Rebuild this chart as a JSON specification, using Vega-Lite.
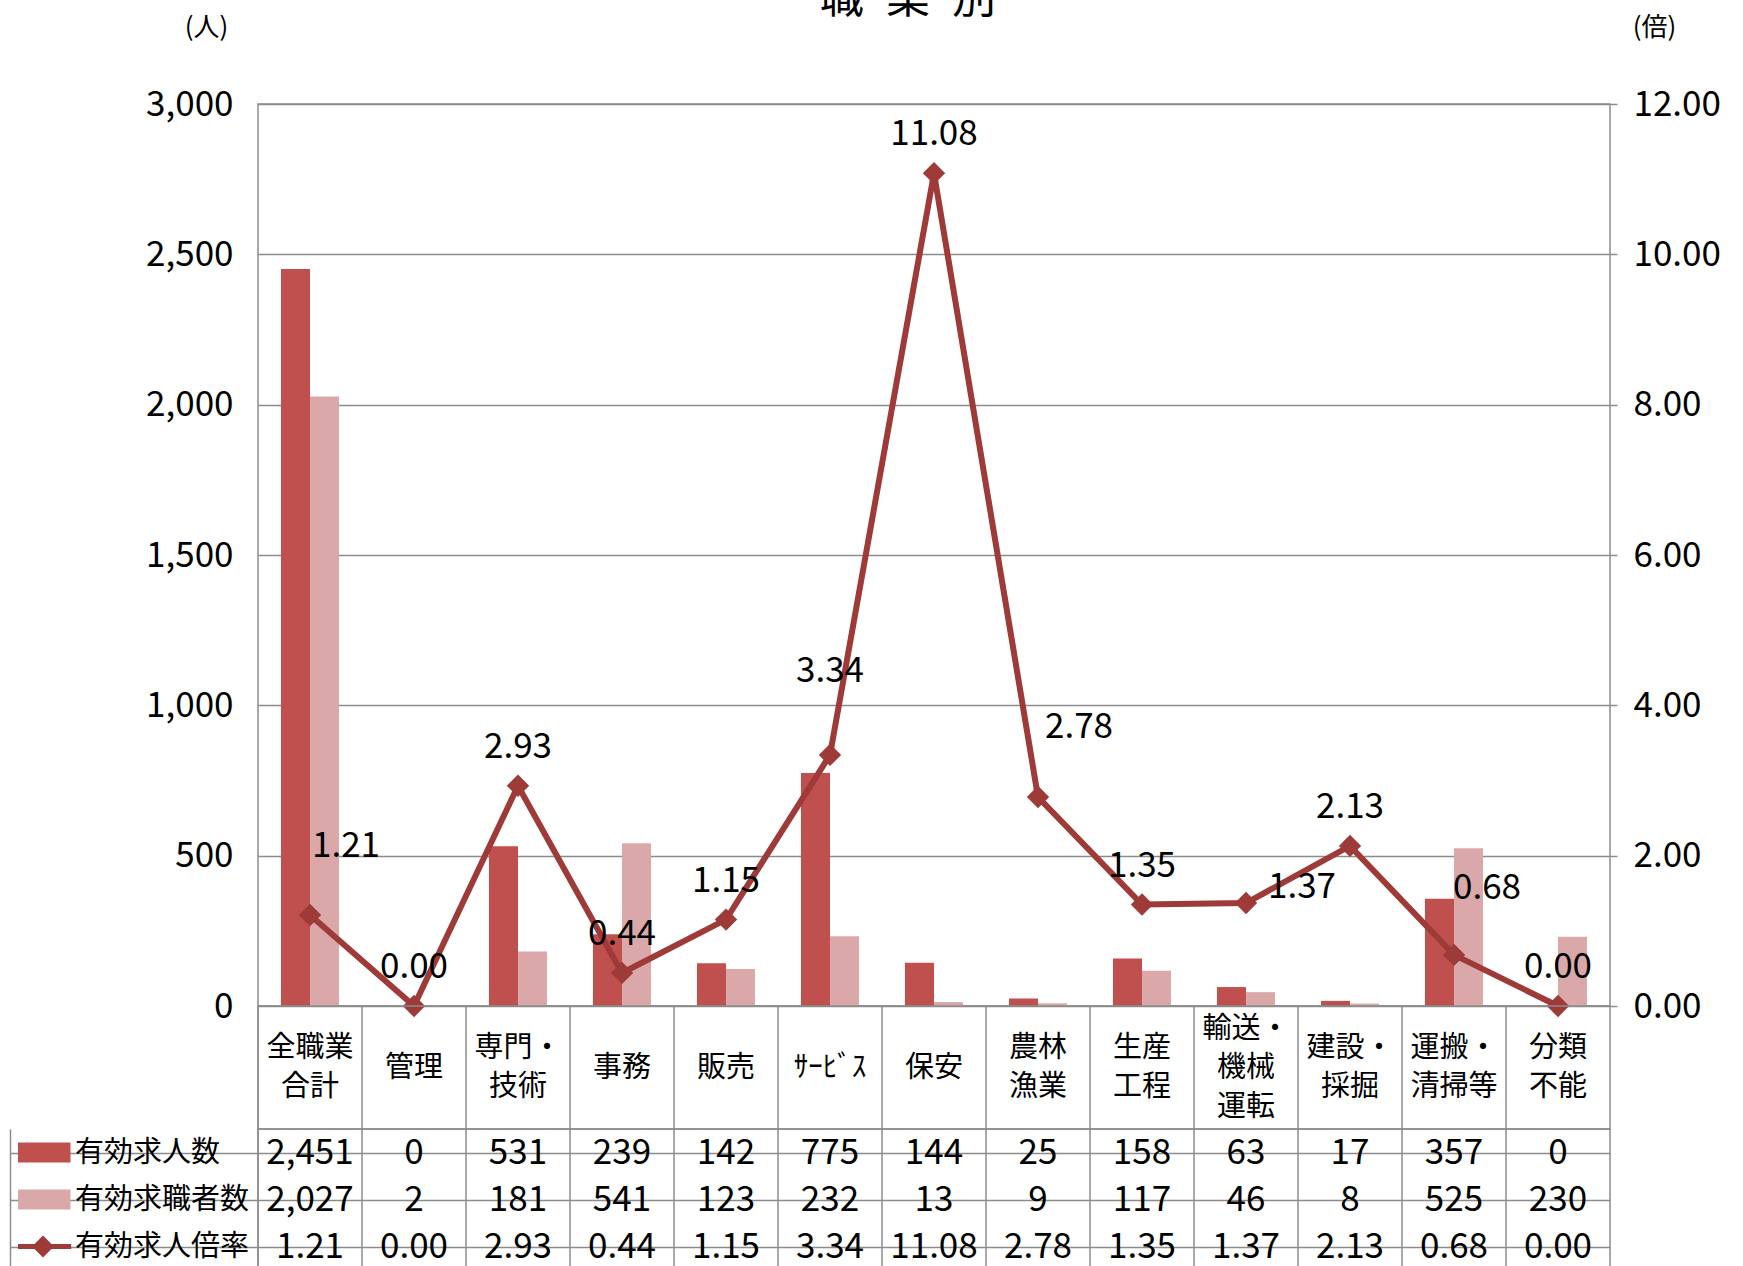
{
  "$schema": "https://vega.github.io/schema/vega-lite/v6.json",
  "background": "white",
  "padding": {"left": 8, "top": -23, "right": 0, "bottom": 0},
  "config": {
    "font": "Noto Sans CJK JP",
    "view": {"stroke": "#8c8c8c", "strokeWidth": 1.5},
    "axis": {"labelFont": "Noto Sans CJK JP", "titleFont": "Noto Sans CJK JP", "labelColor": "#000", "titleColor": "#000", "titleFontWeight": "normal", "gridColor": "#8c8c8c", "gridWidth": 1.5, "domain": false, "ticks": false},
    "text": {"font": "Noto Sans CJK JP", "color": "#000", "fontWeight": "normal"}
  },
  "datasets": {
    "rows": [
      {"職業": "全職業合計", "系列": "有効求人数", "値": 2451},
      {"職業": "全職業合計", "系列": "有効求職者数", "値": 2027},
      {"職業": "全職業合計", "系列": "有効求人倍率", "値": 1.21},
      {"職業": "管理", "系列": "有効求人数", "値": 0},
      {"職業": "管理", "系列": "有効求職者数", "値": 2},
      {"職業": "管理", "系列": "有効求人倍率", "値": 0.00},
      {"職業": "専門・技術", "系列": "有効求人数", "値": 531},
      {"職業": "専門・技術", "系列": "有効求職者数", "値": 181},
      {"職業": "専門・技術", "系列": "有効求人倍率", "値": 2.93},
      {"職業": "事務", "系列": "有効求人数", "値": 239},
      {"職業": "事務", "系列": "有効求職者数", "値": 541},
      {"職業": "事務", "系列": "有効求人倍率", "値": 0.44},
      {"職業": "販売", "系列": "有効求人数", "値": 142},
      {"職業": "販売", "系列": "有効求職者数", "値": 123},
      {"職業": "販売", "系列": "有効求人倍率", "値": 1.15},
      {"職業": "サービス", "系列": "有効求人数", "値": 775},
      {"職業": "サービス", "系列": "有効求職者数", "値": 232},
      {"職業": "サービス", "系列": "有効求人倍率", "値": 3.34},
      {"職業": "保安", "系列": "有効求人数", "値": 144},
      {"職業": "保安", "系列": "有効求職者数", "値": 13},
      {"職業": "保安", "系列": "有効求人倍率", "値": 11.08},
      {"職業": "農林漁業", "系列": "有効求人数", "値": 25},
      {"職業": "農林漁業", "系列": "有効求職者数", "値": 9},
      {"職業": "農林漁業", "系列": "有効求人倍率", "値": 2.78},
      {"職業": "生産工程", "系列": "有効求人数", "値": 158},
      {"職業": "生産工程", "系列": "有効求職者数", "値": 117},
      {"職業": "生産工程", "系列": "有効求人倍率", "値": 1.35},
      {"職業": "輸送・機械運転", "系列": "有効求人数", "値": 63},
      {"職業": "輸送・機械運転", "系列": "有効求職者数", "値": 46},
      {"職業": "輸送・機械運転", "系列": "有効求人倍率", "値": 1.37},
      {"職業": "建設・採掘", "系列": "有効求人数", "値": 17},
      {"職業": "建設・採掘", "系列": "有効求職者数", "値": 8},
      {"職業": "建設・採掘", "系列": "有効求人倍率", "値": 2.13},
      {"職業": "運搬・清掃等", "系列": "有効求人数", "値": 357},
      {"職業": "運搬・清掃等", "系列": "有効求職者数", "値": 525},
      {"職業": "運搬・清掃等", "系列": "有効求人倍率", "値": 0.68},
      {"職業": "分類不能", "系列": "有効求人数", "値": 0},
      {"職業": "分類不能", "系列": "有効求職者数", "値": 230},
      {"職業": "分類不能", "系列": "有効求人倍率", "値": 0.00}
    ],
    "cats": [
      {"職業": "全職業合計", "表示": "全職業\n合計"},
      {"職業": "管理", "表示": "管理"},
      {"職業": "専門・技術", "表示": "専門・\n技術"},
      {"職業": "事務", "表示": "事務"},
      {"職業": "販売", "表示": "販売"},
      {"職業": "サービス", "表示": "ｻｰﾋﾞｽ"},
      {"職業": "保安", "表示": "保安"},
      {"職業": "農林漁業", "表示": "農林\n漁業"},
      {"職業": "生産工程", "表示": "生産\n工程"},
      {"職業": "輸送・機械運転", "表示": "輸送・\n機械\n運転"},
      {"職業": "建設・採掘", "表示": "建設・\n採掘"},
      {"職業": "運搬・清掃等", "表示": "運搬・\n清掃等"},
      {"職業": "分類不能", "表示": "分類\n不能"}
    ]
  },
  "spacing": 0,
  "bounds": "flush",
  "resolve": {"scale": {"x": "independent"}},
  "vconcat": [
    {
      "width": 1352,
      "height": 902,
      "title": {"text": "職\u2002業\u2002別", "fontSize": 44, "font": "Noto Sans CJK JP", "fontWeight": "normal", "color": "#000", "anchor": "middle", "dx": -26, "dy": 12},
      "data": {"name": "rows"},
      "layer": [
        {
          "transform": [{"filter": "datum['系列'] !== '有効求人倍率'"}],
          "mark": {"type": "bar"},
          "encoding": {
            "x": {"field": "職業", "type": "nominal", "scale": {"domain": ["全職業合計","管理","専門・技術","事務","販売","サービス","保安","農林漁業","生産工程","輸送・機械運転","建設・採掘","運搬・清掃等","分類不能"], "paddingInner": 0.442, "paddingOuter": 0.221}, "axis": null},
            "xOffset": {"field": "系列", "type": "nominal", "scale": {"domain": ["有効求人数", "有効求職者数"], "paddingInner": 0, "paddingOuter": 0}},
            "y": {"field": "値", "type": "quantitative", "scale": {"domain": [0, 3000], "nice": false}, "axis": {"orient": "left", "values": [0, 500, 1000, 1500, 2000, 2500, 3000], "format": ",d", "labelFontSize": 35, "labelPadding": 25, "grid": true, "title": "(人)", "titleFontSize": 26, "titleAngle": 0, "titleX": -52, "titleY": -77, "titleAlign": "center", "titleBaseline": "middle"}},
            "color": {"field": "系列", "type": "nominal", "scale": {"domain": ["有効求人数", "有効求職者数", "有効求人倍率"], "range": ["#C0504D", "#DAA8A8", "#9E3A38"]},
              "legend": {"orient": "none", "legendX": -240, "legendY": 1025, "title": null, "padding": 0, "clipHeight": 47, "rowPadding": 0, "labelFontSize": 29, "labelFont": "Noto Sans CJK JP", "labelColor": "#000", "labelLimit": 400, "labelOffset": 7, "symbolOffset": 0, "symbolSize": 2025, "symbolStrokeWidth": 5,
                "encode": {"symbols": {"update": {
                  "size": {"value": 2025},
                  "shape": {"signal": "datum.value === '有効求人倍率' ? 'M-1.25,0H1.25M0,-0.33L0.33,0L0,0.33L-0.33,0Z' : 'M-1.111,-0.333H1.111V0.333H-1.111Z'"},
                  "fill": {"signal": "datum.value === '有効求人数' ? '#C0504D' : datum.value === '有効求職者数' ? '#DAA8A8' : '#9E3A38'"},
                  "stroke": {"signal": "datum.value === '有効求人倍率' ? '#9E3A38' : 'transparent'"},
                  "strokeWidth": {"value": 5},
                  "opacity": {"value": 1}
                }}}}}
          }
        },
        {
          "transform": [{"filter": "datum['系列'] === '有効求人倍率'"}],
          "encoding": {
            "x": {"field": "職業", "type": "nominal", "scale": {"domain": ["全職業合計","管理","専門・技術","事務","販売","サービス","保安","農林漁業","生産工程","輸送・機械運転","建設・採掘","運搬・清掃等","分類不能"], "paddingInner": 0.442, "paddingOuter": 0.221}, "axis": null},
            "y": {"field": "値", "type": "quantitative", "scale": {"domain": [0, 12], "nice": false}, "axis": {"orient": "right", "values": [0, 2, 4, 6, 8, 10, 12], "format": ".2f", "labelFontSize": 35, "ticks": true, "tickSize": 7, "tickColor": "#8c8c8c", "tickWidth": 1.5, "labelPadding": 16, "grid": false, "title": "(倍)", "titleFontSize": 26, "titleAngle": 0, "titleX": 44, "titleY": -77, "titleAlign": "center", "titleBaseline": "middle"}}
          },
          "layer": [
            {"mark": {"type": "line", "strokeWidth": 6}, "encoding": {"color": {"field": "系列", "type": "nominal"}}},
            {"mark": {"type": "point", "shape": "diamond", "filled": true, "size": 500, "opacity": 1}, "encoding": {"color": {"field": "系列", "type": "nominal"}}},
            {"transform": [{"filter": {"not": {"field": "職業", "oneOf": ["全職業合計", "サービス", "農林漁業", "輸送・機械運転", "運搬・清掃等"]}}}],
             "mark": {"type": "text", "fontSize": 35, "dy": -39, "baseline": "middle", "color": "#000"}, "encoding": {"text": {"field": "値", "type": "quantitative", "format": ".2f"}}},
            {"transform": [{"filter": {"field": "職業", "equal": "全職業合計"}}],
             "mark": {"type": "text", "fontSize": 35, "dx": 36, "dy": -69, "baseline": "middle", "color": "#000"}, "encoding": {"text": {"field": "値", "type": "quantitative", "format": ".2f"}}},
            {"transform": [{"filter": {"field": "職業", "equal": "サービス"}}],
             "mark": {"type": "text", "fontSize": 35, "dx": 0, "dy": -84, "baseline": "middle", "color": "#000"}, "encoding": {"text": {"field": "値", "type": "quantitative", "format": ".2f"}}},
            {"transform": [{"filter": {"field": "職業", "equal": "農林漁業"}}],
             "mark": {"type": "text", "fontSize": 35, "dx": 41, "dy": -70, "baseline": "middle", "color": "#000"}, "encoding": {"text": {"field": "値", "type": "quantitative", "format": ".2f"}}},
            {"transform": [{"filter": {"field": "職業", "equal": "輸送・機械運転"}}],
             "mark": {"type": "text", "fontSize": 35, "dx": 56, "dy": -16, "baseline": "middle", "color": "#000"}, "encoding": {"text": {"field": "値", "type": "quantitative", "format": ".2f"}}},
            {"transform": [{"filter": {"field": "職業", "equal": "運搬・清掃等"}}],
             "mark": {"type": "text", "fontSize": 35, "dx": 33, "dy": -67, "baseline": "middle", "color": "#000"}, "encoding": {"text": {"field": "値", "type": "quantitative", "format": ".2f"}}}
          ]
        }
      ],
      "resolve": {"scale": {"y": "independent"}}
    },
    {
      "width": 1352,
      "height": 123,
      "data": {"name": "cats"},
      "encoding": {
        "x": {"field": "職業", "type": "nominal", "scale": {"domain": ["全職業合計","管理","専門・技術","事務","販売","サービス","保安","農林漁業","生産工程","輸送・機械運転","建設・採掘","運搬・清掃等","分類不能"], "paddingInner": 0, "paddingOuter": 0}, "axis": null, "bandPosition": 0}
      },
      "layer": [
        {"mark": {"type": "rule", "color": "#8c8c8c", "strokeWidth": 1.5}},
        {"transform": [{"filter": {"field": "職業", "oneOf": ["管理", "事務", "販売", "サービス", "保安"]}}],
         "mark": {"type": "text", "fontSize": 29, "lineBreak": "\n", "lineHeight": 39, "baseline": "middle", "align": "center", "color": "#000"},
         "encoding": {"x": {"field": "職業", "type": "nominal", "bandPosition": 0.5}, "text": {"field": "表示", "type": "nominal"}}},
        {"transform": [{"filter": {"field": "職業", "oneOf": ["全職業合計", "専門・技術", "農林漁業", "生産工程", "建設・採掘", "運搬・清掃等", "分類不能"]}}],
         "mark": {"type": "text", "fontSize": 29, "lineBreak": "\n", "lineHeight": 39, "baseline": "middle", "align": "center", "dy": -19.5, "color": "#000"},
         "encoding": {"x": {"field": "職業", "type": "nominal", "bandPosition": 0.5}, "text": {"field": "表示", "type": "nominal"}}},
        {"transform": [{"filter": {"field": "職業", "equal": "輸送・機械運転"}}],
         "mark": {"type": "text", "fontSize": 29, "lineBreak": "\n", "lineHeight": 39, "baseline": "middle", "align": "center", "dy": -39, "color": "#000"},
         "encoding": {"x": {"field": "職業", "type": "nominal", "bandPosition": 0.5}, "text": {"field": "表示", "type": "nominal"}}}
      ]
    },
    {
      "width": 1352,
      "height": 142,
      "layer": [
        {"data": {"name": "cats"}, "mark": {"type": "rule", "color": "#8c8c8c", "strokeWidth": 1.5},
         "encoding": {"x": {"field": "職業", "type": "nominal", "scale": {"domain": ["全職業合計","管理","専門・技術","事務","販売","サービス","保安","農林漁業","生産工程","輸送・機械運転","建設・採掘","運搬・清掃等","分類不能"], "paddingInner": 0, "paddingOuter": 0}, "axis": null, "bandPosition": 0}}},
        {"data": {"name": "rows"},
         "transform": [{"filter": "datum['系列'] !== '有効求人倍率'"}],
         "mark": {"type": "text", "fontSize": 35, "baseline": "middle", "align": "center", "color": "#000"},
         "encoding": {
           "x": {"field": "職業", "type": "nominal"},
           "y": {"field": "系列", "type": "nominal", "scale": {"domain": ["有効求人数", "有効求職者数", "有効求人倍率"], "paddingInner": 0, "paddingOuter": 0}, "axis": {"offset": 248, "tickSize": -248, "ticks": true, "tickColor": "#8c8c8c", "tickWidth": 1.5, "domain": true, "domainColor": "#8c8c8c", "domainWidth": 1.5, "labels": false, "title": null, "grid": true, "bandPosition": 0}},
           "text": {"field": "値", "type": "quantitative", "format": ","}
         }},
        {"data": {"name": "rows"},
         "transform": [{"filter": "datum['系列'] === '有効求人倍率'"}],
         "mark": {"type": "text", "fontSize": 35, "baseline": "middle", "align": "center", "color": "#000"},
         "encoding": {
           "x": {"field": "職業", "type": "nominal"},
           "y": {"field": "系列", "type": "nominal"},
           "text": {"field": "値", "type": "quantitative", "format": ".2f"}
         }}
      ]
    }
  ]
}
